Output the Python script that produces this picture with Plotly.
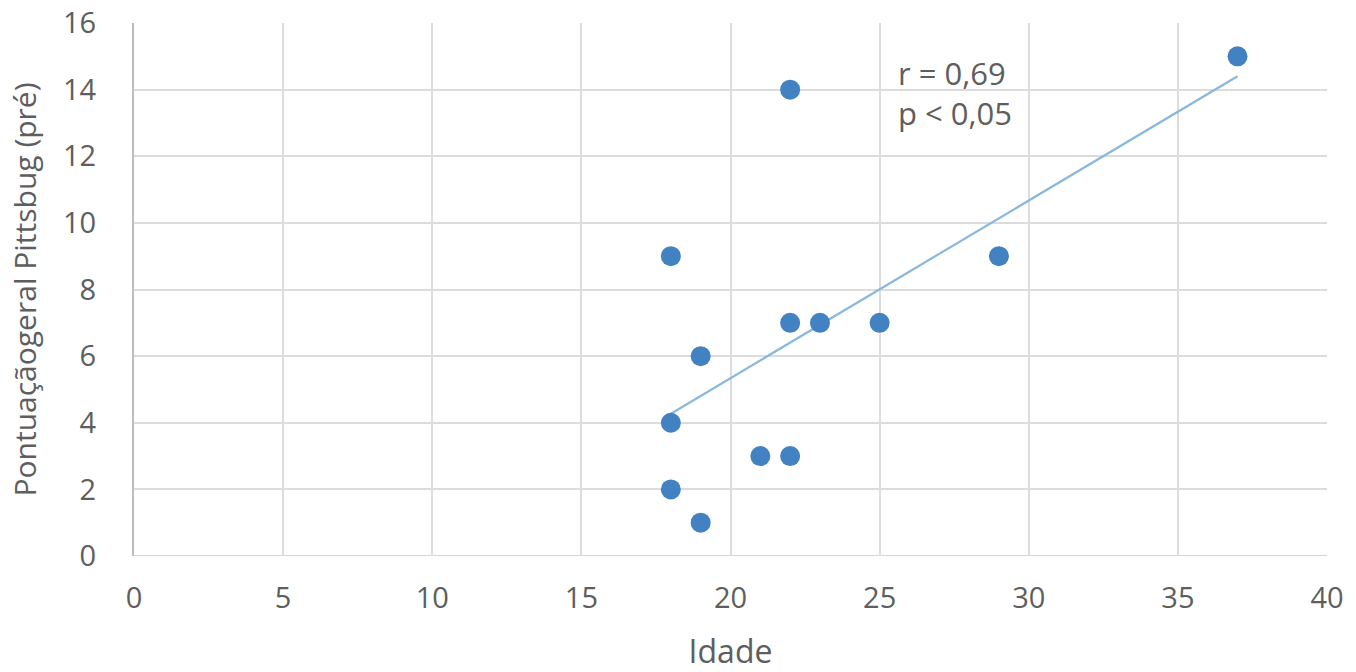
import numpy as np
import plotly.graph_objects as go

# Idade (anos) e pontuação geral Pittsburgh pré-intervenção
idade = [18, 19, 18, 18, 19, 21, 22, 22, 23, 25, 22, 29, 37]
pontuacao = [9, 6, 4, 2, 1, 3, 3, 7, 7, 7, 14, 9, 15]

x_ticks = [0, 5, 10, 15, 20, 25, 30, 35, 40]
y_ticks = [0, 2, 4, 6, 8, 10, 12, 14, 16]

# Linha de tendência linear (mínimos quadrados)
coef = np.polyfit(idade, pontuacao, 1)
x_fit = np.array([min(idade), max(idade)])
y_fit = np.polyval(coef, x_fit)

text_color = "#5e5e5e"
font_family = "Open Sans, Lato, sans-serif"

fig = go.Figure()
fig.add_trace(go.Scatter(
    x=x_fit, y=y_fit, mode="lines",
    line=dict(color="#8ab8dc", width=2.2),
    hoverinfo="skip", showlegend=False,
))
fig.add_trace(go.Scatter(
    x=idade, y=pontuacao, mode="markers",
    marker=dict(size=20, color="#4282c2", line=dict(width=0)),
    showlegend=False,
))

fig.add_annotation(
    x=25.55, y=13.9, xref="x", yref="y",
    text="r = 0,69<br>p < 0,05",
    showarrow=False, xanchor="left", yanchor="middle", align="left",
    font=dict(family=font_family, size=31, color=text_color),
)

fig.update_layout(
    width=1356, height=672,
    margin=dict(l=134, r=29, t=23, b=116),
    paper_bgcolor="white", plot_bgcolor="white",
    font=dict(family=font_family, color=text_color),
)
fig.update_xaxes(
    range=[0, 40], tickvals=x_ticks, ticktext=[str(v) for v in x_ticks],
    showgrid=True, gridcolor="#dcdcdc", gridwidth=2,
    zeroline=False, showline=False, ticks="", automargin=False,
    tickfont=dict(size=29, color=text_color),
    ticklabelstandoff=22,
    title=dict(text="Idade", font=dict(size=32, color=text_color), standoff=29),
)
fig.update_yaxes(
    range=[0, 16], tickvals=y_ticks, ticktext=[str(v) for v in y_ticks],
    showgrid=True, gridcolor="#dcdcdc", gridwidth=2,
    zeroline=False, showline=True, linecolor="#bdbdbd", linewidth=2,
    ticks="", automargin=False, tickfont=dict(size=29, color=text_color),
    ticklabelstandoff=30,
    title=dict(text="Pontuaçãogeral Pittsbug (pré)", font=dict(size=30, color=text_color), standoff=18),
)
# linha inferior da área do gráfico
fig.add_shape(type="line", xref="x", yref="y", x0=0, x1=40, y0=0, y1=0,
              line=dict(color="#d6d6d6", width=2), layer="below")

fig.write_html("out.html")
